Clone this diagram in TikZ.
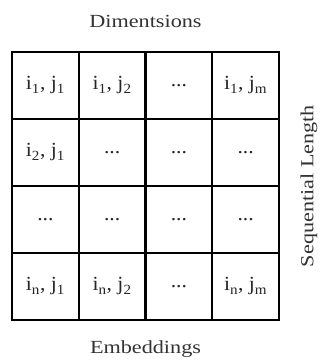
\documentclass[tikz,border=0pt]{standalone}
\usepackage{fontspec}
\setmainfont{Liberation Serif}[FakeStretch=1.2]
\newfontfamily\cellfont{Liberation Serif}[FakeStretch=1.08]
\begin{document}
\begin{tikzpicture}[x=1pt,y=1pt,
  cellbox/.style={draw=black, line width=2.2pt, minimum width=66.75pt, minimum height=67pt, inner sep=0pt, font=\cellfont\fontsize{20}{22}\selectfont, text=black!85, anchor=center},
  lbl/.style={font=\fontsize{18.5}{20}\selectfont, text=black!80, inner sep=0pt}]
\useasboundingbox (0,0) rectangle (325,-364);
\fill[white] (0,0) rectangle (325,-364);
% row 1
\node[cellbox] (c11) at (45.4,-85.5)  {i\textsubscript{1}, j\textsubscript{1}};
\node[cellbox] (c12) at (112.1,-85.5) {i\textsubscript{1}, j\textsubscript{2}};
\node[cellbox] (c13) at (178.9,-85.5) {...};
\node[cellbox] (c14) at (245.6,-85.5) {i\textsubscript{1}, j\textsubscript{m}};
% row 2
\node[cellbox] (c21) at (45.4,-152.5)  {i\textsubscript{2}, j\textsubscript{1}};
\node[cellbox] (c22) at (112.1,-152.5) {...};
\node[cellbox] (c23) at (178.9,-152.5) {...};
\node[cellbox] (c24) at (245.6,-152.5) {...};
% row 3
\node[cellbox] (c31) at (45.4,-219.5)  {...};
\node[cellbox] (c32) at (112.1,-219.5) {...};
\node[cellbox] (c33) at (178.9,-219.5) {...};
\node[cellbox] (c34) at (245.6,-219.5) {...};
% row 4
\node[cellbox] (c41) at (45.4,-286.5)  {i\textsubscript{n}, j\textsubscript{1}};
\node[cellbox] (c42) at (112.1,-286.5) {i\textsubscript{n}, j\textsubscript{2}};
\node[cellbox] (c43) at (178.9,-286.5) {...};
\node[cellbox] (c44) at (245.6,-286.5) {i\textsubscript{n}, j\textsubscript{m}};
% labels
\node[lbl] (dim) at (145.5,-21) {Dimentsions};
\node[lbl] (emb) at (145.5,-349) {Embeddings};
\node[lbl, rotate=90] (seq) at (309,-186) {Sequential Length};
\end{tikzpicture}
\end{document}
